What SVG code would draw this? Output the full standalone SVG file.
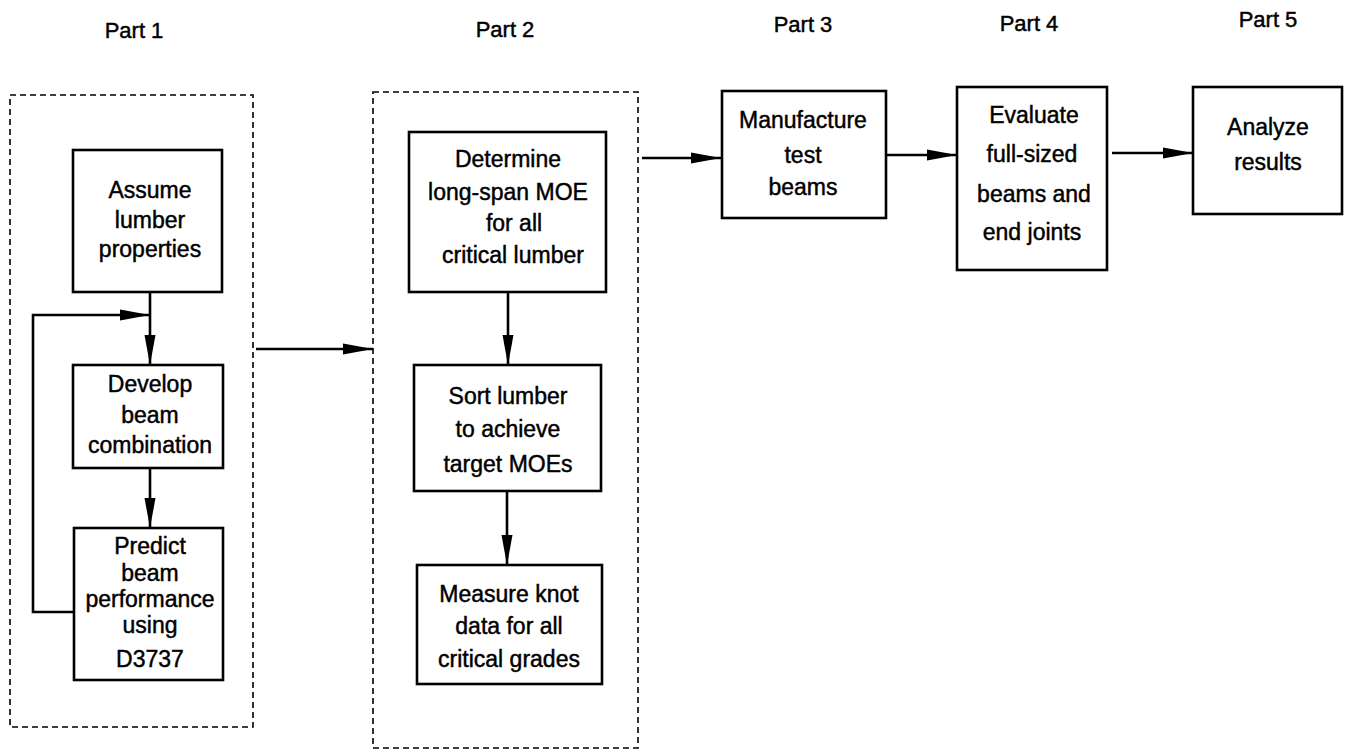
<svg xmlns="http://www.w3.org/2000/svg" width="1345" height="751" viewBox="0 0 1345 751">
  <style>
    text { font-family: "Liberation Sans", Arial, sans-serif; font-size: 23px; fill: #000; stroke: #000; stroke-width: 0.45; text-anchor: middle; }
    .part { font-size: 22px; }
    .box { fill: #fff; stroke: #000; stroke-width: 2.6; }
    .group { fill: none; stroke: #000; stroke-width: 1.6; stroke-dasharray: 6 4; }
    .link { fill: none; stroke: #000; stroke-width: 2.6; }
  </style>
  <defs>
    <marker id="arrow" viewBox="0 0 30 12" refX="30" refY="6" markerWidth="30" markerHeight="12" markerUnits="userSpaceOnUse" orient="auto">
      <path d="M0,0.5 L30,6 L0,11.5 Z" fill="#000"/>
    </marker>
  </defs>

  <!-- column headings -->
  <g id="headings">
    <text class="part" x="134" y="38">Part 1</text>
    <text class="part" x="505" y="37">Part 2</text>
    <text class="part" x="803" y="32">Part 3</text>
    <text class="part" x="1029" y="31">Part 4</text>
    <text class="part" x="1268" y="27">Part 5</text>
  </g>

  <!-- dashed stage groupings -->
  <g id="stage1"><rect class="group" x="10" y="95" width="243" height="632"/></g>
  <g id="stage2"><rect class="group" x="373" y="92" width="265" height="656"/></g>

  <!-- connectors -->
  <g id="connectors">
    <line class="link" x1="150" y1="292" x2="150" y2="365" marker-end="url(#arrow)"/>
    <line class="link" x1="150" y1="468" x2="150" y2="528" marker-end="url(#arrow)"/>
    <polyline class="link" points="73,612 33,612 33,315 150,315" marker-end="url(#arrow)"/>
    <line class="link" x1="256" y1="349" x2="373" y2="349" marker-end="url(#arrow)"/>
    <line class="link" x1="508" y1="292" x2="508" y2="365" marker-end="url(#arrow)"/>
    <line class="link" x1="507" y1="491" x2="507" y2="565" marker-end="url(#arrow)"/>
    <line class="link" x1="642" y1="158" x2="721" y2="158" marker-end="url(#arrow)"/>
    <line class="link" x1="886" y1="155" x2="957" y2="155" marker-end="url(#arrow)"/>
    <line class="link" x1="1112" y1="153" x2="1193" y2="153" marker-end="url(#arrow)"/>
  </g>

  <!-- Part 1 -->
  <g id="assume">
    <rect class="box" x="73" y="150" width="149" height="142"/>
    <text x="150" y="198">Assume</text>
    <text x="150" y="228">lumber</text>
    <text x="150" y="257">properties</text>
  </g>
  <g id="develop">
    <rect class="box" x="73" y="365" width="150" height="103"/>
    <text x="150" y="392">Develop</text>
    <text x="150" y="423">beam</text>
    <text x="150" y="453">combination</text>
  </g>
  <g id="predict">
    <rect class="box" x="74" y="528" width="149" height="152"/>
    <text x="150" y="554">Predict</text>
    <text x="150" y="581">beam</text>
    <text x="150" y="607">performance</text>
    <text x="150" y="633">using</text>
    <text x="150" y="667">D3737</text>
  </g>

  <!-- Part 2 -->
  <g id="determine">
    <rect class="box" x="409" y="132" width="197" height="160"/>
    <text x="508" y="167">Determine</text>
    <text x="508" y="200">long-span MOE</text>
    <text x="514" y="231">for all</text>
    <text x="513" y="263">critical lumber</text>
  </g>
  <g id="sort">
    <rect class="box" x="414" y="365" width="187" height="126"/>
    <text x="508" y="404">Sort lumber</text>
    <text x="508" y="437">to achieve</text>
    <text x="508" y="472">target MOEs</text>
  </g>
  <g id="measure">
    <rect class="box" x="417" y="565" width="185" height="119"/>
    <text x="509" y="602">Measure knot</text>
    <text x="509" y="634">data for all</text>
    <text x="509" y="667">critical grades</text>
  </g>

  <!-- Part 3 -->
  <g id="manufacture">
    <rect class="box" x="722" y="91" width="164" height="127"/>
    <text x="803" y="128">Manufacture</text>
    <text x="803" y="163">test</text>
    <text x="803" y="195">beams</text>
  </g>

  <!-- Part 4 -->
  <g id="evaluate">
    <rect class="box" x="957" y="87" width="150" height="183"/>
    <text x="1034" y="123">Evaluate</text>
    <text x="1032" y="162">full-sized</text>
    <text x="1034" y="202">beams and</text>
    <text x="1032" y="240">end joints</text>
  </g>

  <!-- Part 5 -->
  <g id="analyze">
    <rect class="box" x="1193" y="87" width="149" height="127"/>
    <text x="1268" y="135">Analyze</text>
    <text x="1268" y="170">results</text>
  </g>
</svg>
